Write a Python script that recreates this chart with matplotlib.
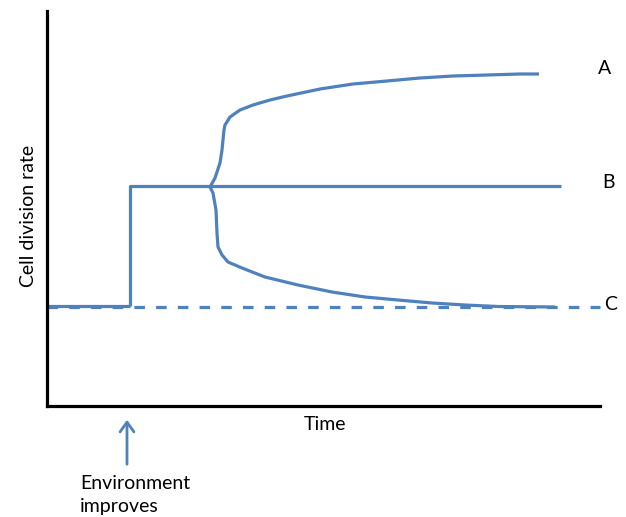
import matplotlib
matplotlib.use("Agg")
import matplotlib.pyplot as plt

W, H = 626, 517
BLUE = "#4f81bd"

# Schematic data (time units, rate units)
base_t = [0, 83]
base_r = [100, 100]
step_t = [83, 83, 514]
step_r = [100, 220, 220]          # curve B
dash_t = [0, 553]
dash_r = [99, 99]                 # curve C baseline (dashed)
a_t = [163, 168, 173, 175, 176, 177, 178, 183, 193, 206, 223, 240, 273, 306, 340, 373, 406, 440, 473, 492]
a_r = [219, 228, 243, 256, 266, 276, 281, 289, 296, 301, 306, 310, 317, 322, 325, 328, 330, 331, 332, 332]
c_t = [163, 166, 169, 170, 171, 175, 181, 195, 218, 251, 285, 318, 351, 385, 418, 451, 508]
c_r = [219, 213, 196, 173, 159, 151, 144, 138, 129, 121, 114, 109, 106, 103, 101, 99.5, 99]

fig = plt.figure(figsize=(W / 100, H / 100), dpi=100)
x0, x1, ytop, ybot = 47, 600, 11, 406
ax = fig.add_axes([x0 / W, (H - ybot) / H, (x1 - x0) / W, (ybot - ytop) / H])
ax.set_xlim(0, x1 - x0)
ax.set_ylim(0, ybot - ytop)

lw = 2.3
ax.plot(base_t, base_r, color=BLUE, lw=lw, solid_capstyle="butt")
ax.plot(step_t, step_r, color=BLUE, lw=lw, solid_capstyle="butt")
ax.plot(dash_t, dash_r, color=BLUE, lw=lw, dashes=(3.3, 3.5), clip_on=False)
ax.plot(a_t, a_r, color=BLUE, lw=lw, solid_capstyle="butt", solid_joinstyle="round")
ax.plot(c_t, c_r, color=BLUE, lw=lw, solid_capstyle="butt", solid_joinstyle="round")

for s in ["top", "right"]:
    ax.spines[s].set_visible(False)
for s in ["left", "bottom"]:
    ax.spines[s].set_linewidth(2.3)
    ax.spines[s].set_color("black")
ax.set_xticks([])
ax.set_yticks([])

font = "Lato"
fs = 14
fig.text(605 / W, 1 - 68 / H, "A", ha="center", va="center", fontsize=fs, family=font)
fig.text(608 / W, 1 - 183 / H, "B", ha="center", va="center", fontsize=fs, family=font)
fig.text(611 / W, 1 - 304 / H, "C", ha="center", va="center", fontsize=fs, family=font)
fig.text(325 / W, 1 - 425 / H, "Time", ha="center", va="center", fontsize=fs, family=font)
fig.text(28 / W, 1 - 216 / H, "Cell division rate", ha="center", va="center",
         rotation=90, fontsize=fs, family=font)
fig.text(80 / W, 1 - 495 / H, "Environment\nimproves", ha="left", va="center",
         fontsize=fs, family=font, linespacing=1.4)

fig.patches.append(matplotlib.patches.FancyArrowPatch(
    (127 / W, 1 - 467 / H), (127 / W, 1 - 417 / H), transform=fig.transFigure,
    arrowstyle="->,head_length=3.5,head_width=2.5", color=BLUE, lw=2.0,
    mutation_scale=2))

fig.savefig("out.png", dpi=100)
